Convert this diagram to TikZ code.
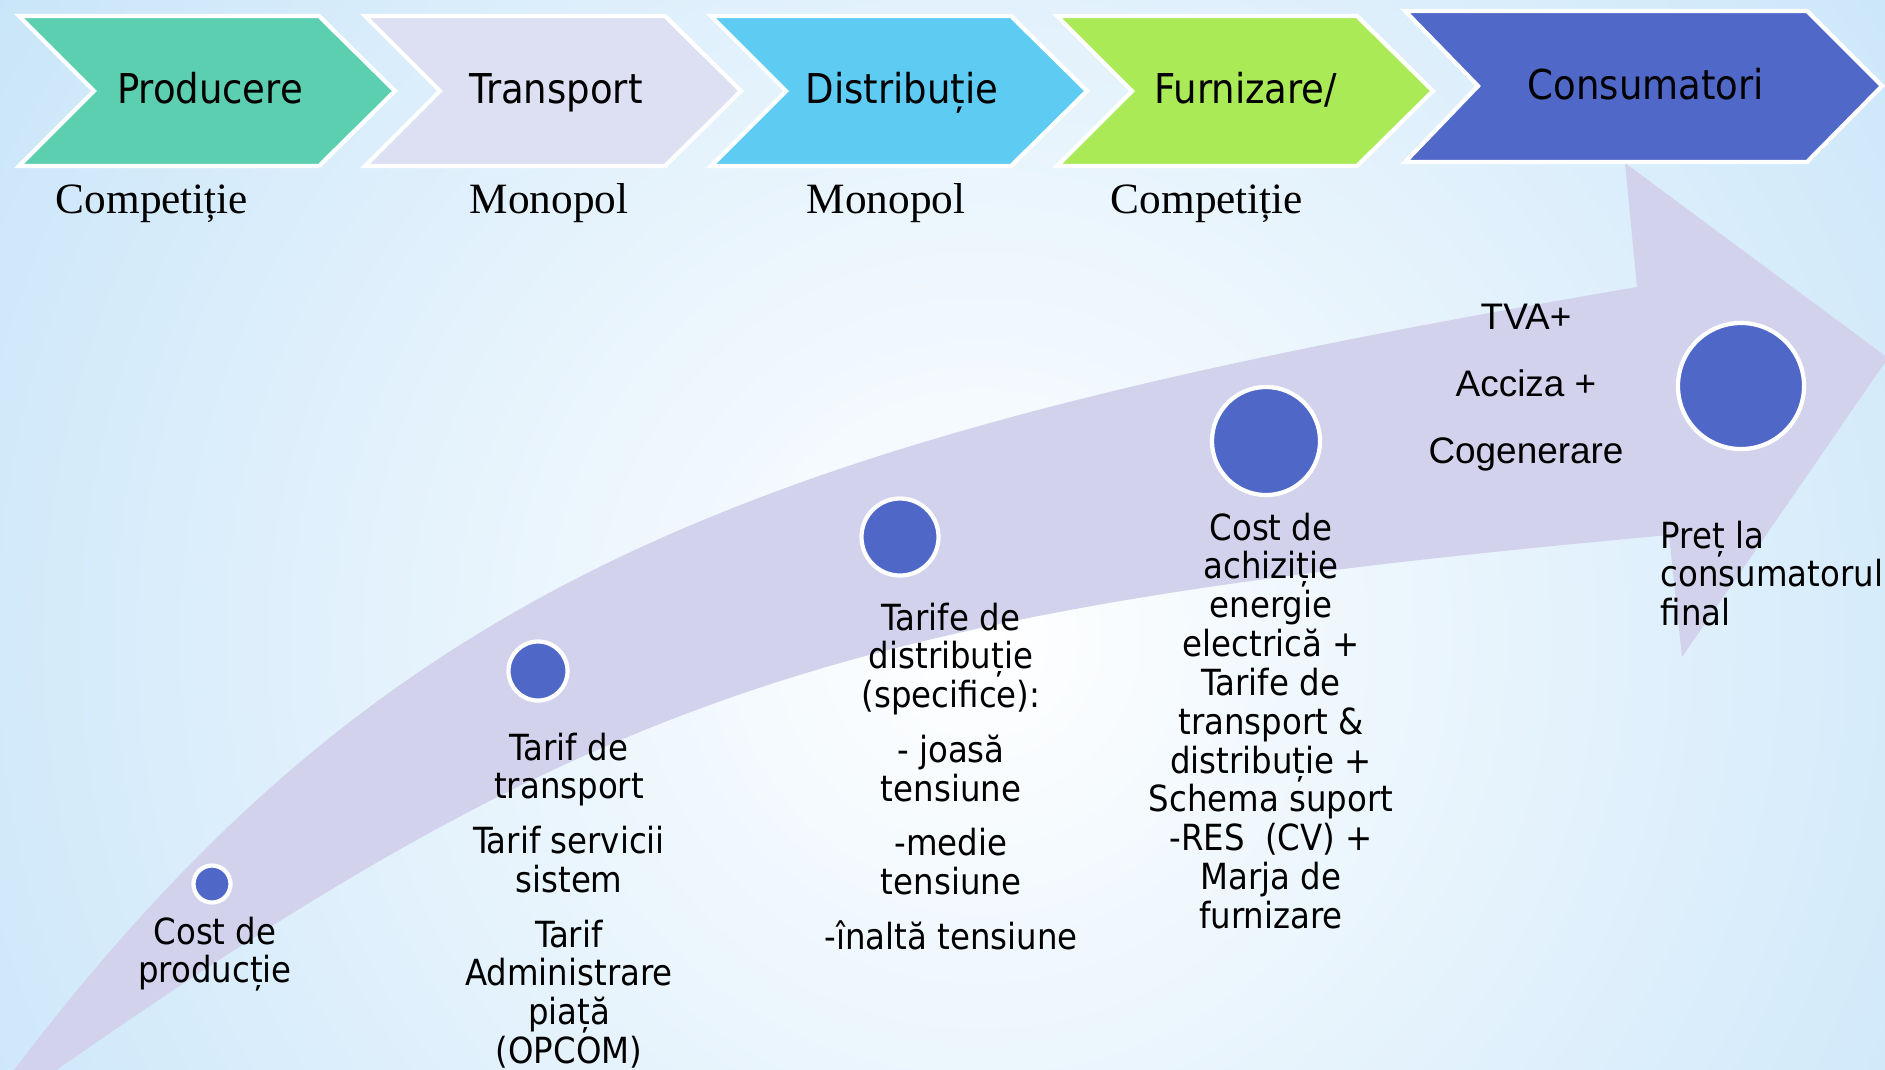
\documentclass[tikz,border=0pt]{standalone}
\usepackage{fontspec}
\setmainfont{Liberation Serif}
\newfontfamily\condsans{DejaVu Sans Condensed}
\newfontfamily\arialsans{Liberation Sans}

\definecolor{bgblue}{RGB}{182,220,247}
\definecolor{bandcol}{RGB}{210,210,236}
\definecolor{dotblue}{RGB}{79,104,200}
\definecolor{prodcol}{RGB}{92,207,177}
\definecolor{transcol}{RGB}{221,224,243}
\definecolor{distcol}{RGB}{93,203,242}
\definecolor{furncol}{RGB}{169,234,86}
\definecolor{conscol}{RGB}{80,104,200}

\begin{document}
\begin{tikzpicture}[x=0.01cm,y=-0.01cm,
    chev/.style={draw=white,line width=1.2pt},
    dot/.style={circle,fill=dotblue,draw=white,line width=1.2pt,inner sep=0pt},
    steplbl/.style={font=\condsans\fontsize{11.7}{14}\selectfont,anchor=base},
    market/.style={font=\fontsize{12.3}{14}\selectfont,anchor=base},
    cost/.style={font=\condsans\fontsize{10.24}{11.04}\selectfont,align=center,anchor=north,inner sep=0pt},
    tax/.style={font=\arialsans\fontsize{10.5}{19.06}\selectfont,align=center,anchor=north,inner sep=0pt}]
    \useasboundingbox (0,0) rectangle (1885,1069);
    % background
    \begin{scope}
      \clip (0,0) rectangle (1885,1069);
      \fill[bgblue] (0,0) rectangle (1885,1069);
      \shade[inner color=white,outer color=bgblue] (980,640) circle (1600);
    \end{scope}
    % big arrow
    \fill[bandcol] (8,1078) .. controls (387,575) and (757,437) .. (1637,287)
      -- (1625,163) -- (1888,358) -- (1682,657) -- (1669,535)
      .. controls (842,610) and (598,691) .. (45,1078) -- cycle;
    % chevrons
    \filldraw[chev,fill=prodcol] (19,16) -- (319,16) -- (395,91) -- (319,166) -- (19,166) -- (94,91) -- cycle;
    \filldraw[chev,fill=transcol] (365,16) -- (665,16) -- (741,91) -- (665,166) -- (365,166) -- (440,91) -- cycle;
    \filldraw[chev,fill=distcol] (711,16) -- (1011,16) -- (1087,91) -- (1011,166) -- (711,166) -- (786,91) -- cycle;
    \filldraw[chev,fill=furncol] (1057,16) -- (1357,16) -- (1433,91) -- (1357,166) -- (1057,166) -- (1132,91) -- cycle;
    \filldraw[chev,fill=conscol] (1405,11) -- (1807,11) -- (1882,86) -- (1807,162) -- (1405,162) -- (1478,86) -- cycle;
    \node[steplbl] (producere) at (210,103) {Producere};
    \node[steplbl] (transport) at (556,103) {Transport};
    \node[steplbl] (distributie) at (902,103) {Distribuție};
    \node[steplbl] (furnizare) at (1246,103) {Furnizare/};
    \node[steplbl] (consumatori) at (1646,99) {Consumatori};
    \node[market] (comp1) at (152,213) {Competiție};
    \node[market] (mono1) at (549,213) {Monopol};
    \node[market] (mono2) at (886,213) {Monopol};
    \node[market] (comp2) at (1207,213) {Competiție};
    % dots on the arrow
    \node[dot,minimum size=0.37cm] (d1) at (212,884) {};
    \node[dot,minimum size=0.59cm] (d2) at (538,671) {};
    \node[dot,minimum size=0.77cm] (d3) at (900,537) {};
    \node[dot,minimum size=1.08cm] (d4) at (1266,441) {};
    \node[dot,minimum size=1.26cm] (d5) at (1741,386) {};
    % cost texts
    \node[cost] (prodcost) at (215,916) {Cost de\\producție};
    \node[cost] (transcost) at (569,732) {Tarif de\\transport\\[4.5pt]Tarif servicii\\sistem\\[4.5pt]Tarif\\Administrare\\piață\\(OPCOM)};
    \node[cost] (distcost) at (951,602) {Tarife de\\distribuție\\(specifice):\\[4.5pt]- joasă\\tensiune\\[4.5pt]-medie\\tensiune\\[4.5pt]-înaltă tensiune};
    \node[cost] (furncost) at (1271,512) {Cost de\\achiziție\\energie\\electrică +\\Tarife de\\transport \&\\distribuție +\\Schema suport\\-RES\ \ (CV) +\\Marja de\\furnizare};
    \node[tax] (taxes) at (1526,303) {TVA+\\Acciza +\\Cogenerare};
    \node[cost,align=left,anchor=north west] (final) at (1660,520) {Preț la\\consumatorul\\final};
\end{tikzpicture}
\end{document}
